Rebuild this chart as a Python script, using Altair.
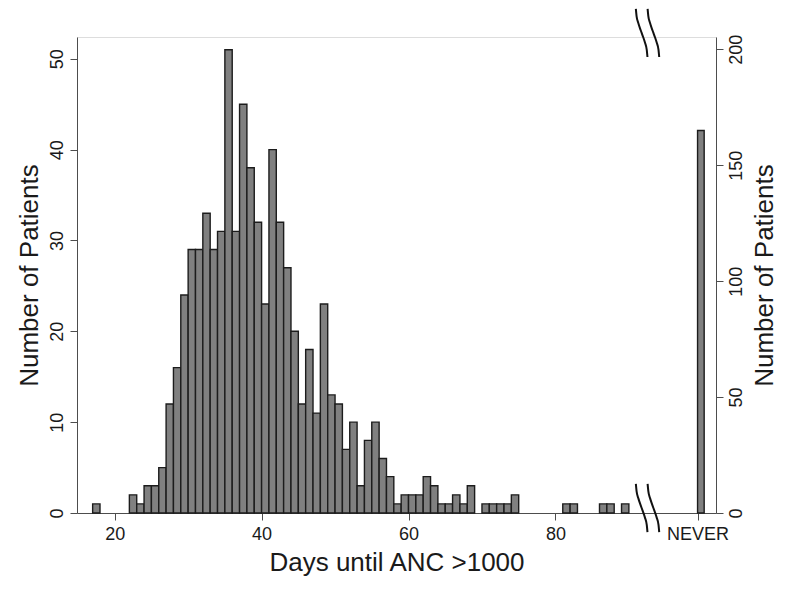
import altair as alt
import pandas as pd

# ---- data ----
days = [17, 22, 23, 24, 25, 26, 27, 28, 29, 30, 31, 32, 33, 34, 35, 36, 37, 38, 39, 40,
        41, 42, 43, 44, 45, 46, 47, 48, 49, 50, 51, 52, 53, 54, 55, 56, 57, 58, 59, 60,
        61, 62, 63, 64, 65, 66, 67, 68, 70, 71, 72, 73, 74, 81, 82, 86, 87, 89]
counts = [1, 2, 1, 3, 3, 5, 12, 16, 24, 29, 29, 33, 29, 31, 51, 31, 45, 38, 32, 23,
          40, 32, 27, 20, 12, 18, 11, 23, 13, 12, 7, 10, 3, 8, 10, 6, 4, 1, 2, 2,
          2, 4, 3, 1, 1, 2, 1, 3, 1, 1, 1, 1, 2, 1, 1, 1, 1, 1]

never_label = "NEVER"
never_count = [165]
never_pos = [99.35]

x_ticks = [20, 40, 60, 80]
left_ticks = [0, 10, 20, 30, 40, 50]
right_ticks = [0, 50, 100, 150, 200]

x_domain = [14.87, 101.86]
left_domain = [0, 52.4]
right_domain = [0, 205.3]

# break-mark geometry (axis units)
break_x0 = [90.95, 92.55]
break_dx = 1.58
break_top = [55.5, 50.2]
break_bottom = [3.2, -2.1]
break_t = [0.0, 0.15, 0.3, 0.45, 0.55, 0.7, 0.85, 1.0]

FONT = "Liberation Sans"
FRAME = "#4d4d4d"
FILL = "#808080"
EDGE = "#1c1c1c"

df = pd.DataFrame({"day": days, "count": counts})
df["day_end"] = df["day"] + 1

never_df = pd.DataFrame({"pos": never_pos, "count": never_count})
never_df["pos_end"] = never_df["pos"] + 0.9

rows = []
for gi, (ytop, ybot) in enumerate([break_top, break_bottom]):
    for ci, x0 in enumerate(break_x0):
        for t in break_t:
            s = 3 * t * t - 2 * t * t * t
            rows.append({"g": f"{gi}-{ci}", "t": t,
                         "bx": x0 + break_dx * s,
                         "by": ytop - (ytop - ybot) * t})
break_df = pd.DataFrame(rows)

x_axis = alt.Axis(
    values=x_ticks + never_pos,
    labelExpr=f"datum.value > 90 ? '{never_label}' : datum.label",
    title="Days until ANC >1000",
    grid=False, tickSize=7, tickColor=FRAME, domainColor=FRAME,
    labelFont=FONT, labelFontSize=18, labelColor="#1a1a1a", labelPadding=5,
    titleFont=FONT, titleFontSize=26, titleFontWeight="normal", titleColor="#1a1a1a",
    titlePadding=6,
)
x_scale = alt.Scale(domain=x_domain, nice=False, zero=False)

bars = alt.Chart(df).mark_bar(fill=FILL, stroke=EDGE, strokeWidth=1.4).encode(
    x=alt.X("day:Q", scale=x_scale, axis=x_axis),
    x2="day_end:Q",
    y=alt.Y("count:Q", scale=alt.Scale(domain=left_domain, nice=False),
            axis=alt.Axis(values=left_ticks, title="Number of Patients", grid=False,
                          tickSize=7, tickColor=FRAME, domainColor=FRAME,
                          labelAngle=270, labelAlign="center", labelBaseline="bottom",
                          labelFont=FONT, labelFontSize=18, labelColor="#1a1a1a",
                          labelPadding=4,
                          titleFont=FONT, titleFontSize=26, titleFontWeight="normal",
                          titleColor="#1a1a1a", titlePadding=6)),
    y2=alt.datum(0),
)

never = alt.Chart(never_df).mark_bar(fill=FILL, stroke=EDGE, strokeWidth=1.4).encode(
    x=alt.X("pos:Q", scale=x_scale, axis=x_axis),
    x2="pos_end:Q",
    y=alt.Y("count:Q", scale=alt.Scale(domain=right_domain, nice=False),
            axis=alt.Axis(orient="right", values=right_ticks, title="Number of Patients",
                          grid=False, tickSize=7, tickColor=FRAME, domainColor=FRAME,
                          labelAngle=270, labelAlign="center", labelBaseline="top",
                          labelFont=FONT, labelFontSize=18, labelColor="#1a1a1a",
                          labelPadding=4, titleAngle=270, titleBaseline="top",
                          titleFont=FONT, titleFontSize=26, titleFontWeight="normal",
                          titleColor="#1a1a1a", titlePadding=6)),
    y2=alt.datum(0),
)

breaks = alt.Chart(break_df).mark_line(color="#111111", strokeWidth=2, clip=False,
                                       interpolate="monotone").encode(
    x=alt.X("bx:Q", scale=x_scale, axis=x_axis),
    y=alt.Y("by:Q", scale=alt.Scale(domain=left_domain, nice=False), axis=None),
    detail="g:N",
    order="t:Q",
)

chart = alt.layer(bars, never, breaks).resolve_scale(y="independent").properties(
    width=639, height=476,
    autosize=alt.AutoSizeParams(type="none"),
    padding={"left": 69, "top": 29, "right": 63, "bottom": 68},
).configure_view(stroke=FRAME, strokeWidth=1.2).configure(background="white")

chart.save("out.html", embed_options={"renderer": "svg", "actions": False})
